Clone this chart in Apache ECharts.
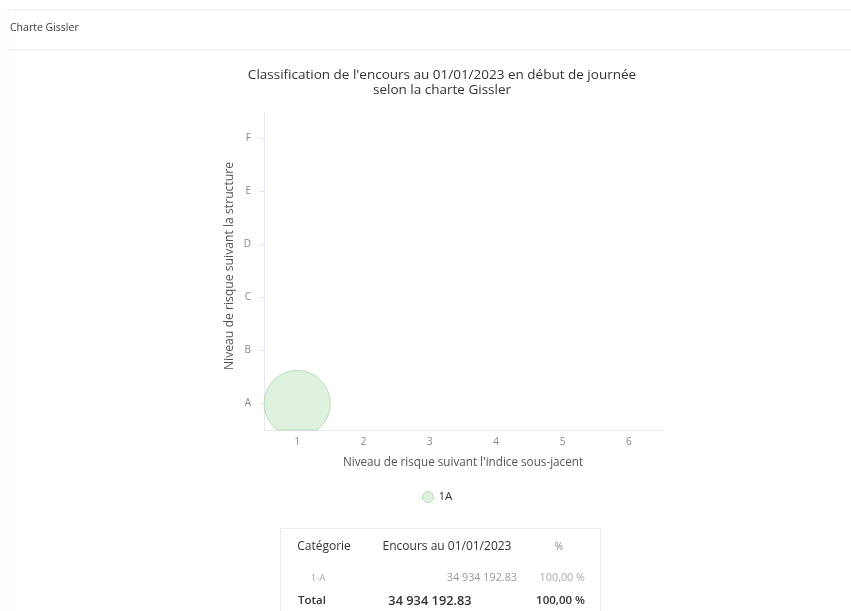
<!DOCTYPE html>
<html>
<head>
<meta charset="utf-8">
<script src="https://cdn.jsdelivr.net/npm/echarts@6/dist/echarts.min.js"></script>
<style>
  html, body { margin: 0; padding: 0; background: #fff; }
  #chart { width: 851px; height: 611px; }
</style>
</head>
<body>
<div id="chart"></div>
<script>
// Axis categories
const riskIndex = ['1', '2', '3', '4', '5', '6'];
const riskStructure = ['A', 'B', 'C', 'D', 'E', 'F'];

// Bubble series: [index level, structure level, outstanding amount]
const seriesName = '1A';
const bubbleData = [['1', 'A', 34934192.83]];

// Summary table
const tableHeader = ['Catégorie', 'Encours au 01/01/2023', '%'];
const tableRows = [['1-A', '34 934 192.83', '100,00 %']];
const tableTotal = ['Total', '34 934 192.83', '100,00 %'];

const FONT = '"Open Sans", "Noto Sans", sans-serif';
const BUBBLE_FILL = 'rgba(196,232,196,0.55)';
const BUBBLE_STROKE = '#b3dcb1';
const BUBBLE_RADIUS = 33;

const chart = echarts.init(document.getElementById('chart'));

const graphics = [
  // card borders
  { type: 'line', shape: { x1: 8, y1: 10, x2: 851, y2: 10 }, style: { stroke: '#ececec', lineWidth: 1 } },
  { type: 'line', shape: { x1: 8, y1: 10, x2: 8, y2: 611 }, style: { stroke: '#f3f3f3', lineWidth: 1 } },
  { type: 'line', shape: { x1: 8, y1: 50, x2: 851, y2: 50 }, style: { stroke: '#ebebeb', lineWidth: 1 } },
  { type: 'text', left: 10, top: 23, style: { text: 'Charte Gissler', font: '10.5px ' + FONT, fill: '#3a3a3a' } },
  // table box
  { type: 'rect', shape: { x: 280.5, y: 528.5, width: 320, height: 100 }, style: { fill: 'none', stroke: '#ededed', lineWidth: 1 } }
];

// table header
const colX = [324, 447, 559];
tableHeader.forEach((t, i) => {
  graphics.push({ type: 'text', x: colX[i], y: 547, style: { text: t, font: (i === 2 ? '10px ' : '500 12px ') + FONT, fill: i === 2 ? '#888' : '#333', align: 'center', verticalAlign: 'middle' } });
});
// table rows
tableRows.forEach((r, k) => {
  const y = 578 + k * 23;
  graphics.push({ type: 'text', x: 318, y: y, style: { text: r[0], font: '9.5px ' + FONT, fill: '#aaa', align: 'center', verticalAlign: 'middle' } });
  graphics.push({ type: 'text', x: 517, y: y, style: { text: r[1], font: '10.8px ' + FONT, fill: '#999', align: 'right', verticalAlign: 'middle' } });
  graphics.push({ type: 'text', x: 585, y: y, style: { text: r[2], font: '10.8px ' + FONT, fill: '#aaa', align: 'right', verticalAlign: 'middle' } });
});
// total row
const totalY = 578 + tableRows.length * 23;
graphics.push({ type: 'text', x: 312, y: totalY, style: { text: tableTotal[0], font: '600 11.5px ' + FONT, fill: '#333', align: 'center', verticalAlign: 'middle' } });
graphics.push({ type: 'text', x: 430, y: totalY, style: { text: tableTotal[1], font: '600 12.8px ' + FONT, fill: '#333', align: 'center', verticalAlign: 'middle' } });
graphics.push({ type: 'text', x: 585, y: totalY, style: { text: tableTotal[2], font: '600 11.5px ' + FONT, fill: '#333', align: 'right', verticalAlign: 'middle' } });

// Bubble outline clipped to the plotting rectangle
function clippedCircle(cx, cy, r, rect) {
  const pts = [];
  const n = 120;
  for (let i = 0; i < n; i++) {
    const a = (i / n) * Math.PI * 2;
    let x = cx + r * Math.cos(a);
    let y = cy + r * Math.sin(a);
    x = Math.min(Math.max(x, rect.x), rect.x + rect.width);
    y = Math.min(Math.max(y, rect.y), rect.y + rect.height);
    pts.push([x, y]);
  }
  return pts;
}

chart.setOption({
  animation: false,
  textStyle: { fontFamily: FONT },
  title: {
    text: 'Classification de l\'encours au 01/01/2023 en début de journée\nselon la charte Gissler',
    left: 437,
    textAlign: 'center',
    top: 63,
    textStyle: { fontSize: 13.5, fontWeight: 'normal', color: '#333', lineHeight: 15, fontFamily: FONT }
  },
  grid: { left: 264, right: 189, top: 112, bottom: 181, outerBoundsMode: 'none' },
  legend: {
    data: [{ name: seriesName, icon: 'circle', itemStyle: { color: BUBBLE_FILL, borderColor: BUBBLE_STROKE, borderWidth: 1 } }],
    left: 417,
    top: 486,
    itemWidth: 11,
    itemHeight: 11,
    itemGap: 6,
    textStyle: { fontSize: 11.5, color: '#333', fontFamily: FONT }
  },
  xAxis: {
    type: 'category',
    data: riskIndex,
    name: 'Niveau de risque suivant l\'indice sous-jacent',
    nameLocation: 'middle',
    nameGap: 27,
    nameTextStyle: { fontSize: 11.7, color: '#555', fontFamily: FONT },
    axisLine: { lineStyle: { color: '#e6e9f2' } },
    axisTick: { show: false },
    axisLabel: { fontSize: 10, color: '#888', margin: 7 },
    splitLine: { show: false }
  },
  yAxis: {
    type: 'category',
    data: riskStructure,
    name: 'Niveau de risque suivant la structure',
    nameLocation: 'middle',
    nameGap: 28,
    nameMoveOverlap: false,
    nameTextStyle: { fontSize: 12.2, color: '#555', fontFamily: FONT, padding: [0, 0, 0, 10] },
    axisLine: { show: true, lineStyle: { color: '#e6e9f2' } },
    axisTick: { show: true, alignWithLabel: true, length: 5, lineStyle: { color: '#e6e9f2' } },
    axisLabel: { fontSize: 10, color: '#888', margin: 13 },
    splitLine: { show: false }
  },
  series: [{
    name: seriesName,
    type: 'custom',
    data: bubbleData,
    encode: { x: 0, y: 1 },
    renderItem: function (params, api) {
      const c = api.coord([api.value(0), api.value(1)]);
      return {
        type: 'polygon',
        shape: { points: clippedCircle(c[0], c[1], BUBBLE_RADIUS, params.coordSys) },
        style: { fill: BUBBLE_FILL, stroke: BUBBLE_STROKE, lineWidth: 1 }
      };
    }
  }],
  graphic: graphics
});
</script>
</body>
</html>
